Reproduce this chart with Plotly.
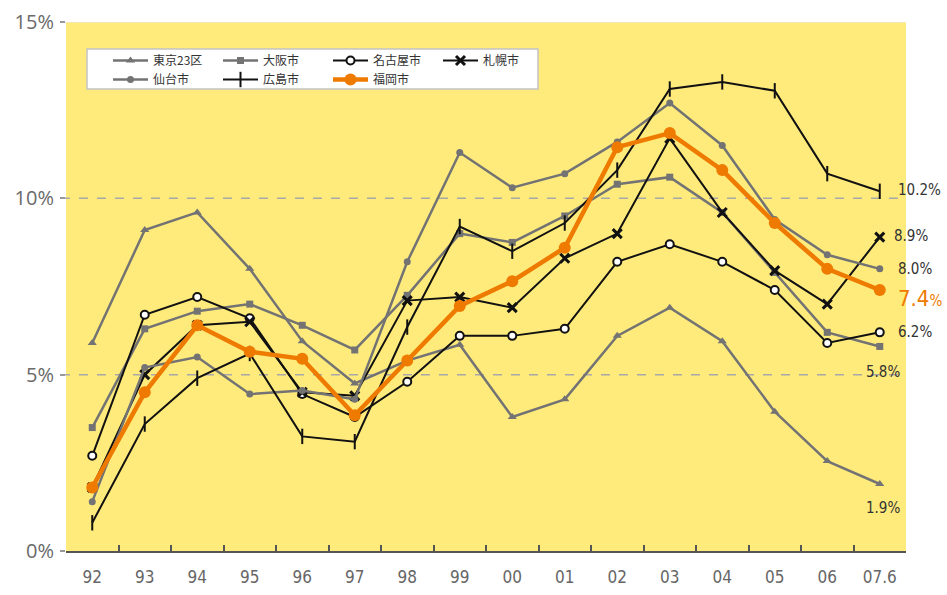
import plotly.graph_objects as go

years = ["92", "93", "94", "95", "96", "97", "98", "99", "00", "01", "02", "03", "04", "05", "06", "07.6"]

tokyo = [5.9, 9.1, 9.6, 8.0, 5.95, 4.75, 5.4, 5.85, 3.8, 4.3, 6.1, 6.9, 5.95, 3.95, 2.55, 1.9]
osaka = [3.5, 6.3, 6.8, 7.0, 6.4, 5.7, 7.25, 9.0, 8.75, 9.5, 10.4, 10.6, 9.6, 7.9, 6.2, 5.8]
nagoya = [2.7, 6.7, 7.2, 6.6, 4.45, 3.8, 4.8, 6.1, 6.1, 6.3, 8.2, 8.7, 8.2, 7.4, 5.9, 6.2]
sapporo = [1.8, 5.0, 6.4, 6.5, 4.5, 4.4, 7.1, 7.2, 6.9, 8.3, 9.0, 11.7, 9.6, 7.95, 7.0, 8.9]
sendai = [1.4, 5.2, 5.5, 4.45, 4.55, 4.3, 8.2, 11.3, 10.3, 10.7, 11.6, 12.7, 11.5, 9.4, 8.4, 8.0]
hiroshima = [0.8, 3.6, 4.9, 5.6, 3.25, 3.1, 6.35, 9.2, 8.5, 9.3, 10.8, 13.1, 13.3, 13.05, 10.7, 10.2]
fukuoka = [1.8, 4.5, 6.4, 5.65, 5.45, 3.85, 5.4, 6.95, 7.65, 8.6, 11.45, 11.85, 10.8, 9.3, 8.0, 7.4]

GRAY = "#737373"
BLACK = "#111111"
ORANGE = "#EE7A00"
YELLOW = "#FFEB7C"

fig = go.Figure()

def add_line(name, values, color, width, symbol, msize, mcolor, legend,
             mline_color=None, mline_width=0):
    fig.add_trace(go.Scatter(
        x=years, y=values, name=name, mode="lines+markers", legend=legend,
        line=dict(color=color, width=width),
        marker=dict(symbol=symbol, size=msize, color=mcolor,
                    line=dict(color=mline_color or mcolor, width=mline_width)),
        cliponaxis=False,
    ))

# first legend row
add_line("東京23区", tokyo, GRAY, 2.5, "triangle-up", 8, GRAY, "legend")
add_line("大阪市", osaka, GRAY, 2.5, "square", 7, GRAY, "legend")
add_line("名古屋市", nagoya, BLACK, 2, "circle", 8, "white", "legend", BLACK, 2)
add_line("札幌市", sapporo, BLACK, 2, "x-thin", 9, BLACK, "legend", BLACK, 3)
# second legend row
add_line("仙台市", sendai, GRAY, 2.5, "circle", 7, GRAY, "legend2")
add_line("広島市", hiroshima, BLACK, 2, "line-ns", 11, BLACK, "legend2", BLACK, 2)
add_line("福岡市", fukuoka, ORANGE, 4.5, "circle", 12, ORANGE, "legend2")

# plot area in pixels (fixed margins)
L, R, T, B = 66, 41, 22, 44
W, H = 947, 595
PW, PH = W - L - R, H - T - B

def px_x(x):
    return (x - L) / PW

def px_y(y):
    return (H - B - y) / PH

# dashed reference lines at 5% and 10%, light rule at 15%
for v in (5, 10):
    fig.add_shape(type="line", xref="paper", yref="y", x0=-0.006, x1=1.0, y0=v, y1=v,
                  line=dict(color="#A8A8A8", width=1.5, dash="dash"), layer="below")
fig.add_shape(type="line", xref="paper", yref="y", x0=-0.006, x1=1.0, y0=15, y1=15,
              line=dict(color="#E6E6E6", width=1), layer="below")

# white box behind the two legend rows
fig.add_shape(type="rect", xref="paper", yref="paper",
              x0=px_x(87), x1=px_x(538), y0=px_y(89), y1=px_y(49),
              fillcolor="white", line=dict(color="#C4C4C4", width=1.5), layer="above")

# end-of-series value labels
last = len(years) - 1
label_font = dict(family="Liberation Sans Narrow, DejaVu Sans Condensed, sans-serif", size=15, color="#333333")
end_labels = [
    (hiroshima[last], f"{hiroshima[last]:.1f}%", 16, 1),
    (sapporo[last], f"{sapporo[last]:.1f}%", 12, 1),
    (sendai[last], f"{sendai[last]:.1f}%", 16, 0),
    (nagoya[last], f"{nagoya[last]:.1f}%", 16, 0),
    (osaka[last], f"{osaka[last]:.1f}%", -16, -26),
    (tokyo[last], f"{tokyo[last]:.1f}%", -16, -24),
]
for val, txt, dx, dy in end_labels:
    fig.add_annotation(x=last, y=val, text=txt, showarrow=False, xanchor="left",
                       yanchor="middle", xshift=dx, yshift=dy, font=label_font)
fig.add_annotation(x=last, y=fukuoka[last],
                   text=f"{fukuoka[last]:.1f}<span style='font-size:15px'>%</span>",
                   showarrow=False, xanchor="left", yanchor="middle", xshift=16, yshift=-8,
                   font=dict(family="Liberation Sans Narrow, DejaVu Sans Condensed, sans-serif",
                             size=22, color=ORANGE))

legend_common = dict(
    orientation="h", xanchor="left", yanchor="top",
    bgcolor="rgba(0,0,0,0)", borderwidth=0,
    entrywidth=60, entrywidthmode="pixels", itemwidth=35,
    font=dict(family="Noto Sans CJK JP", size=12, color="#333333"),
    tracegroupgap=0,
)

fig.update_layout(
    width=W, height=H,
    margin=dict(l=L, r=R, t=T, b=B, autoexpand=False),
    paper_bgcolor="white",
    plot_bgcolor=YELLOW,
    showlegend=True,
    legend=dict(legend_common, x=px_x(108), y=px_y(46)),
    legend2=dict(legend_common, x=px_x(108), y=px_y(65)),
    xaxis=dict(
        type="category", range=[-0.5, 15.5], automargin=False,
        showgrid=False, zeroline=False,
        showline=True, linecolor="#555555", linewidth=2,
        ticks="inside", tickson="boundaries", ticklen=6, tickcolor="#555555", tickwidth=1.5,
        ticklabelstandoff=10,
        tickfont=dict(family="Liberation Sans Narrow, DejaVu Sans Condensed, sans-serif",
                      size=17, color="#666666"),
    ),
    yaxis=dict(
        range=[0, 15], tickvals=[0, 5, 10, 15], ticktext=["0%", "5%", "10%", "15%"],
        automargin=False,
        showgrid=False, zeroline=False, showline=False,
        ticks="outside", ticklen=5, tickcolor="#999999", tickwidth=1.5,
        ticklabelstandoff=2,
        tickfont=dict(family="Open Sans, sans-serif", size=20, color="#6A6A6A"),
    ),
)

fig.write_html("out.html")
